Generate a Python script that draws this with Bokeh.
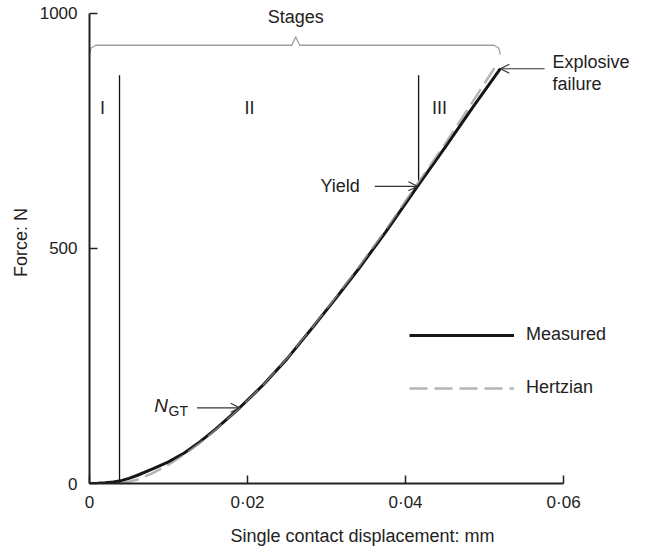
from bokeh.plotting import figure
from bokeh.models import (Range1d, FixedTicker, CustomJSTickFormatter, Arrow, OpenHead,
                          Label, Legend, LegendItem)
from bokeh.embed import file_html
from bokeh.resources import INLINE

# ---- data ----
measured_x = [0, 0.001, 0.002, 0.003, 0.004, 0.005, 0.006, 0.008, 0.010, 0.012, 0.014, 0.016,
              0.019, 0.022, 0.025, 0.028, 0.031, 0.034, 0.0375, 0.0415, 0.045, 0.0485, 0.052]
measured_f = [0, 0.5, 1.5, 3, 6, 11, 17, 31, 46, 65, 89, 116,
              161, 210, 265, 327, 390, 455, 535, 632, 715, 800, 882]

hertz_x = [0.004, 0.006, 0.008, 0.010, 0.012, 0.014, 0.016, 0.019, 0.022, 0.025, 0.028,
           0.031, 0.034, 0.0375, 0.0415, 0.045, 0.0485, 0.0515]
hertz_f = [0, 8, 22, 40, 62, 87, 115, 160, 210, 266, 328,
           392, 458, 539, 637, 722, 812, 890]

x_ticks = [0, 0.02, 0.04, 0.06]
y_ticks = [0, 500, 1000]
x_axis_end = 0.06
y_axis_end = 1000

stage_bounds = [0.0038, 0.04165]      # stage I/II and II/III boundaries
stage_top = 868
stage_names = ["I", "II", "III"]
stage_name_x = [0.00165, 0.02025, 0.0443]
stage_name_f = 798

ngt = (0.019, 161)
yield_pt = (0.0415, 632)
failure_pt = (0.052, 882)

FONT = "Liberation Sans"
TXT = "#222222"
FS = "18px"

p = figure(width=636, height=548, output_backend="svg", toolbar_location=None,
           x_range=Range1d(0, 0.0691), y_range=Range1d(0, 1025),
           min_border_left=89, min_border_right=1, min_border_top=1, min_border_bottom=0)
p.outline_line_color = None
p.xgrid.visible = False
p.ygrid.visible = False
p.background_fill_color = "white"
p.border_fill_color = "white"

for ax in (p.xaxis[0], p.yaxis[0]):
    ax.axis_line_width = 2
    ax.axis_line_color = "#222222"
    ax.major_tick_line_width = 1.5
    ax.major_tick_line_color = "#222222"
    ax.major_tick_in = 8
    ax.major_tick_out = 0
    ax.minor_tick_line_color = None
    ax.major_label_text_font = FONT
    ax.major_label_text_font_size = "17px"
    ax.major_label_text_color = TXT
    ax.axis_label_text_font = FONT
    ax.axis_label_text_font_size = FS
    ax.axis_label_text_font_style = "normal"
    ax.axis_label_text_color = TXT

p.xaxis.bounds = (0, x_axis_end)
p.yaxis.bounds = (0, y_axis_end)
p.xaxis.ticker = FixedTicker(ticks=x_ticks)
p.yaxis.ticker = FixedTicker(ticks=y_ticks)
p.xaxis.formatter = CustomJSTickFormatter(
    code="return tick == 0 ? '0' : tick.toFixed(2).replace('.', '\u00b7');")
p.xaxis.axis_label = "Single contact displacement: mm"
p.yaxis.axis_label = "Force: N"
p.xaxis.major_label_standoff = 9
p.yaxis.major_label_standoff = 12
p.xaxis.axis_label_standoff = 11
p.yaxis.axis_label_standoff = 6

# stage boundary lines
p.segment(x0=stage_bounds[0], y0=0, x1=stage_bounds[0], y1=stage_top,
          line_color="#111111", line_width=1.3)
p.segment(x0=stage_bounds[1], y0=yield_pt[1], x1=stage_bounds[1], y1=stage_top,
          line_color="#111111", line_width=1.3)

# curves
r_h = p.line(hertz_x, hertz_f, line_color="#b5b5b5", line_width=2.5, line_dash="18 7")
r_m = p.line(measured_x, measured_f, line_color="#161616", line_width=3)
p.line(hertz_x, hertz_f, line_color="#b5b5b5", line_width=1.5, line_dash="18 7", line_alpha=0.6)

# stages brace
bx = [0.0, 0.0002, 0.0008, 0.0256, 0.0261, 0.0266, 0.0512, 0.0518, 0.0520]
by = [912, 926, 932, 932, 950, 932, 932, 926, 912]
p.line(bx, by, line_color="#a0a0a0", line_width=1.3)

p.add_layout(Label(x=0.0261, y=991, text="Stages", text_align="center", text_baseline="middle",
                   text_font=FONT, text_font_size=FS, text_color=TXT))
for nm, sx in zip(stage_names, stage_name_x):
    p.add_layout(Label(x=sx, y=stage_name_f, text=nm, text_align="center", text_baseline="middle",
                       text_font=FONT, text_font_size=FS, text_color=TXT))

# annotations with arrows
def arrow(x0, x1, y):
    p.add_layout(Arrow(x_start=x0, y_start=y, x_end=x1, y_end=y,
                       line_color="#333333", line_width=1.2,
                       end=OpenHead(size=9, line_color="#333333", line_width=1.2)))

arrow(0.0136, ngt[0], ngt[1])
p.add_layout(Label(x=0.0082, y=166, text="N", text_align="left", text_baseline="middle",
                   text_font=FONT, text_font_size="19px", text_font_style="italic", text_color=TXT))
p.add_layout(Label(x=0.0100, y=154, text="GT", text_align="left", text_baseline="middle",
                   text_font=FONT, text_font_size="14px", text_color=TXT))

arrow(0.0361, yield_pt[0], yield_pt[1])
p.add_layout(Label(x=0.0342, y=yield_pt[1], text="Yield", text_align="right", text_baseline="middle",
                   text_font=FONT, text_font_size=FS, text_color=TXT))

arrow(0.0576, failure_pt[0], failure_pt[1])
p.add_layout(Label(x=0.0586, y=896, text="Explosive", text_align="left", text_baseline="middle",
                   text_font=FONT, text_font_size=FS, text_color=TXT))
p.add_layout(Label(x=0.0586, y=850, text="failure", text_align="left", text_baseline="middle",
                   text_font=FONT, text_font_size=FS, text_color=TXT))

legend = Legend(items=[LegendItem(label="Measured", renderers=[r_m]),
                       LegendItem(label="Hertzian", renderers=[r_h])],
                location=(320, 85), orientation="vertical",
                glyph_width=105, glyph_height=20, label_height=20, spacing=32,
                label_standoff=12, padding=0, margin=0,
                border_line_color=None, background_fill_alpha=0,
                label_text_font=FONT, label_text_font_size=FS, label_text_color=TXT)
p.add_layout(legend)

open("out.html", "w").write(file_html(p, INLINE))
